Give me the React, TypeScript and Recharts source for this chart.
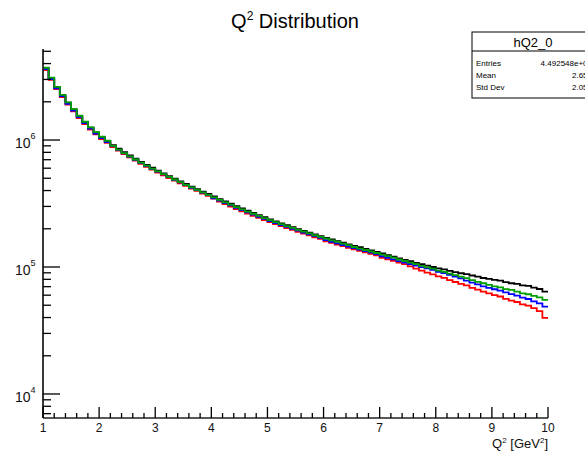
import React from "react";
import { LineChart, Line, XAxis, YAxis } from "recharts";

// Bin low edges: 90 bins of width 0.1 from 1 to 10 (last row closes the histogram at 10)
const binEdges: number[] = Array.from({ length: 91 }, (_, i) => Math.round((1 + i * 0.1) * 10) / 10);

const blackCounts = [
  3690000, 3080000, 2610000, 2260000, 1970000, 1740000, 1545000, 1386000, 1254000, 1146000,
  1056000, 982000, 913000, 854000, 801000, 755000, 713000, 673000, 638000, 605000,
  575000, 547000, 520000, 496000, 473000, 451000, 430000, 411000, 393000, 376000,
  359000, 343000, 328000, 315000, 301000, 289000, 277500, 266700, 256300, 246600,
  237400, 228900, 220800, 213400, 206200, 199100, 192800, 186600, 180600, 175100,
  169800, 164600, 160000, 155300, 150900, 146600, 143500, 138900, 135200, 131500,
  127900, 124200, 120900, 116900, 113800, 111200, 107900, 105200, 102600, 100000,
  97500, 95900, 93300, 91300, 89300, 87900, 85700, 84000, 81900, 80700,
  79100, 78100, 76000, 74500, 73600, 71600, 70900, 68900, 67100, 64100,
];

const greenCounts = [
  3708000, 3095000, 2623000, 2271000, 1980000, 1749000, 1553000, 1393000, 1260000, 1152000,
  1061000, 987000, 899300, 841200, 789000, 743700, 702300, 662900, 628400, 595900,
  566400, 538800, 512200, 488600, 465900, 444200, 423600, 404800, 387100, 370400,
  353600, 337900, 323100, 310300, 296500, 284700, 273300, 262700, 252500, 242900,
  233800, 225500, 217500, 210200, 203100, 196100, 189900, 183800, 177900, 172500,
  167300, 162100, 157600, 153000, 148600, 143700, 139800, 136100, 132500, 128900,
  125300, 121700, 118500, 114600, 111500, 108400, 105200, 102000, 99500, 97000,
  93600, 91600, 88600, 86300, 83900, 81700, 78800, 76400, 74500, 72200,
  70400, 69100, 66900, 66000, 64000, 61900, 61000, 59300, 57700, 55100,
];

const blueCounts = [
  3616000, 3018000, 2558000, 2215000, 1931000, 1705000, 1514000, 1358000, 1229000, 1123000,
  1035000, 962000, 895000, 837000, 785000, 740000, 699000, 660000, 625000, 593000,
  564000, 536000, 510000, 486000, 464000, 442000, 421000, 403000, 385000, 368000,
  348000, 333000, 318000, 305500, 292000, 280300, 269200, 258700, 248600, 239200,
  230300, 222000, 214200, 207000, 200000, 193100, 187000, 181000, 175200, 169800,
  163000, 158000, 153600, 149100, 144900, 140700, 137000, 133300, 129800, 126200,
  121500, 118000, 114900, 111100, 108100, 105600, 102500, 99900, 97500, 95000,
  91700, 89700, 86800, 84000, 81300, 78200, 75400, 73100, 70400, 68600,
  66800, 65200, 63100, 61100, 59600, 57300, 56000, 53700, 51700, 48700,
];

const redCounts = [
  3561000, 2972000, 2519000, 2181000, 1901000, 1679000, 1491000, 1337000, 1210000, 1106000,
  1019000, 948000, 881000, 824000, 773000, 729000, 688000, 649000, 616000, 584000,
  555000, 528000, 502000, 479000, 456000, 435000, 415000, 397000, 379000, 363000,
  345000, 328000, 313000, 299300, 286000, 274600, 263600, 253400, 243500, 234300,
  225500, 217500, 209800, 202700, 195900, 189100, 183200, 177300, 171600, 166300,
  159600, 154700, 150400, 146000, 141800, 137800, 134100, 130600, 127100, 123600,
  118300, 114900, 111800, 108100, 105300, 101200, 97100, 93600, 90300, 87500,
  84300, 82000, 78800, 76200, 73700, 71600, 68600, 66400, 63900, 62100,
  60100, 58600, 56200, 54400, 53000, 50800, 49600, 47500, 45000, 39700,
];

const xTicks: number[] = Array.from({ length: 46 }, (_, i) => Math.round((1 + i * 0.2) * 10) / 10);
const yMajor = [10000, 100000, 1000000];
const yTicks = [
  7000, 8000, 9000, 10000, 20000, 30000, 40000, 50000, 60000, 70000, 80000, 90000,
  100000, 200000, 300000, 400000, 500000, 600000, 700000, 800000, 900000,
  1000000, 2000000, 3000000, 4000000, 5000000,
];

const statsTitle = "hQ2_0";
const statsRows = [
  ["Entries", "4.492548e+07"],
  ["Mean", "2.654"],
  ["Std Dev", "2.054"],
];

const FONT = "'Liberation Sans', Arial, Helvetica, sans-serif";

const data = binEdges.map((x, i) => {
  const k = Math.min(i, blackCounts.length - 1);
  return {
    x,
    black: blackCounts[k],
    green: greenCounts[k],
    blue: blueCounts[k],
    red: redCounts[k],
  };
});

const XTick = (props: any) => {
  const { x, y, payload } = props;
  const v = payload.value as number;
  const major = Math.abs(v - Math.round(v)) < 1e-6;
  const len = major ? 11 : 5;
  return (
    <g>
      <line x1={x} x2={x} y1={y} y2={y - len} stroke="#000" strokeWidth={1.3} />
      {major && (
        <text x={x} y={y + 14} textAnchor="middle" fontSize={12} fontFamily={FONT} fill="#111">
          {Math.round(v)}
        </text>
      )}
    </g>
  );
};

const YTick = (props: any) => {
  const { x, y, payload } = props;
  const v = payload.value as number;
  const major = yMajor.includes(v);
  const len = major ? 17 : 8;
  const exp = Math.round(Math.log10(v));
  return (
    <g>
      <line x1={x} x2={x + len} y1={y} y2={y} stroke="#000" strokeWidth={1.3} />
      {major && (
        <text x={x - 28} y={y + 8} fontSize={14} fontFamily={FONT} fill="#111">
          10
          <tspan dy={-9} fontSize={9}>
            {exp}
          </tspan>
        </text>
      )}
    </g>
  );
};

export default function App() {
  return (
    <div style={{ position: "absolute", left: 0, top: 0, width: 585, height: 458, background: "#fff" }}>
      <LineChart
        width={585}
        height={458}
        data={data}
        margin={{ top: 49, right: 37, bottom: 0, left: 0 }}
        style={{ background: "#fff" }}
      >
        <XAxis
          xAxisId="b"
          dataKey="x"
          type="number"
          domain={[1, 10]}
          ticks={xTicks}
          interval={0}
          allowDataOverflow
          height={40}
          tickSize={0}
          tickMargin={0}
          tickLine={false}
          axisLine={{ stroke: "#222", strokeWidth: 1.6 }}
          tick={<XTick />}
        />
        <XAxis
          xAxisId="t"
          orientation="top"
          dataKey="x"
          type="number"
          domain={[1, 10]}
          height={0}
          tick={false}
          tickLine={false}
          axisLine={{ stroke: "#222", strokeWidth: 1.6 }}
        />
        <YAxis
          yAxisId="l"
          scale="log"
          type="number"
          domain={[6470, 5210000]}
          allowDataOverflow
          ticks={yTicks}
          interval={0}
          width={43}
          tickSize={0}
          tickMargin={0}
          tickLine={false}
          axisLine={{ stroke: "#222", strokeWidth: 1.8 }}
          tick={<YTick />}
        />
        <YAxis
          yAxisId="r"
          orientation="right"
          scale="log"
          type="number"
          domain={[6470, 5210000]}
          width={0}
          tick={false}
          tickLine={false}
          axisLine={{ stroke: "#444", strokeWidth: 2 }}
        />
        <Line xAxisId="b" yAxisId="l" type="stepAfter" dataKey="black" stroke="#000000" strokeWidth={1.8} dot={false} isAnimationActive={false} />
        <Line xAxisId="b" yAxisId="l" type="stepAfter" dataKey="red" stroke="#ff0000" strokeWidth={1.8} dot={false} isAnimationActive={false} />
        <Line xAxisId="b" yAxisId="l" type="stepAfter" dataKey="blue" stroke="#0000ff" strokeWidth={1.8} dot={false} isAnimationActive={false} />
        <Line xAxisId="b" yAxisId="l" type="stepAfter" dataKey="green" stroke="#00a000" strokeWidth={1.8} dot={false} isAnimationActive={false} />
      </LineChart>
      <svg width={585} height={458} style={{ position: "absolute", left: 0, top: 0, pointerEvents: "none" }}>
        <text x={295} y={28} textAnchor="middle" fontSize={20} fontFamily={FONT} fill="#000">
          Q<tspan dy={-8} fontSize={12}>2</tspan>
          <tspan dy={8}> Distribution</tspan>
        </text>
        <text x={548} y={448} textAnchor="end" fontSize={13} fontFamily={FONT} fill="#111">
          Q<tspan dy={-5} fontSize={8}>2</tspan>
          <tspan dy={5}> [GeV</tspan>
          <tspan dy={-5} fontSize={8}>2</tspan>
          <tspan dy={5}>]</tspan>
        </text>
        <rect x={472} y={32} width={130} height={66} fill="#fff" stroke="#000" strokeWidth={1} />
        <line x1={472} x2={602} y1={51} y2={51} stroke="#000" strokeWidth={1} />
        <text x={533} y={47} textAnchor="middle" fontSize={13} fontFamily={FONT} fill="#000">
          {statsTitle}
        </text>
        {statsRows.map((r, i) => (
          <g key={r[0]}>
            <text x={476} y={66 + i * 12} fontSize={8} fontFamily={FONT} fill="#000">
              {r[0]}
            </text>
            <text x={592} y={66 + i * 12} textAnchor="end" fontSize={8} fontFamily={FONT} fill="#000">
              {r[1]}
            </text>
          </g>
        ))}
      </svg>
    </div>
  );
}
